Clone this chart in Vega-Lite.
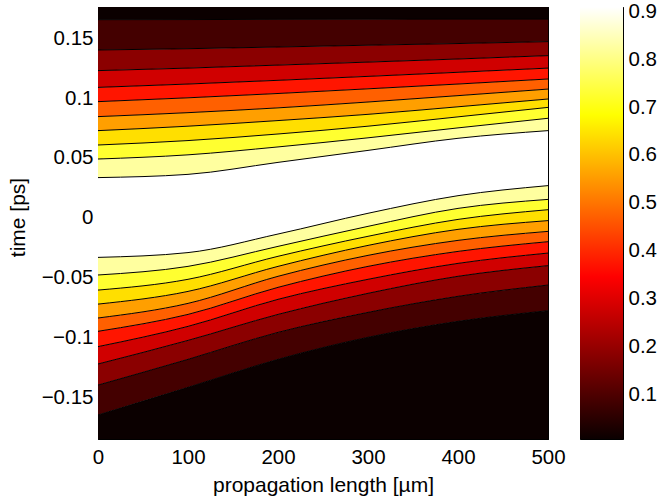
{
  "$schema": "https://vega.github.io/schema/vega-lite/v6.json",
  "autosize": {"type": "pad"},
  "padding": {"left": 6, "top": 0, "right": 0, "bottom": 0},
  "background": "white",
  "config": {
    "font": "Liberation Sans",
    "view": {"stroke": "black", "strokeWidth": 1},
    "axis": {
      "grid": false,
      "domainColor": "black",
      "tickColor": "black",
      "labelColor": "black",
      "titleColor": "black",
      "labelFont": "Liberation Sans",
      "titleFont": "Liberation Sans",
      "labelFontSize": 20.5,
      "titleFontSize": 21,
      "titleFontWeight": "normal",
      "labelFlush": false
    }
  },
  "datasets": {
    "bands": [
      {"x":0,"b":0,"h":"t","lo":0.1654,"hi":0.176},{"x":100,"b":0,"h":"t","lo":0.1655,"hi":0.176},{"x":200,"b":0,"h":"t","lo":0.1657,"hi":0.176},{"x":300,"b":0,"h":"t","lo":0.1658,"hi":0.176},{"x":400,"b":0,"h":"t","lo":0.1659,"hi":0.176},{"x":500,"b":0,"h":"t","lo":0.1659,"hi":0.176},
      {"x":0,"b":1,"h":"t","lo":0.1401,"hi":0.1654},{"x":100,"b":1,"h":"t","lo":0.1412,"hi":0.1655},{"x":200,"b":1,"h":"t","lo":0.1426,"hi":0.1657},{"x":300,"b":1,"h":"t","lo":0.1441,"hi":0.1658},{"x":400,"b":1,"h":"t","lo":0.1455,"hi":0.1659},{"x":500,"b":1,"h":"t","lo":0.1471,"hi":0.1659},
      {"x":0,"b":2,"h":"t","lo":0.1229,"hi":0.1401},{"x":100,"b":2,"h":"t","lo":0.1250,"hi":0.1412},{"x":200,"b":2,"h":"t","lo":0.1275,"hi":0.1426},{"x":300,"b":2,"h":"t","lo":0.1300,"hi":0.1441},{"x":400,"b":2,"h":"t","lo":0.1326,"hi":0.1455},{"x":500,"b":2,"h":"t","lo":0.1354,"hi":0.1471},
      {"x":0,"b":3,"h":"t","lo":0.1089,"hi":0.1229},{"x":100,"b":3,"h":"t","lo":0.1117,"hi":0.1250},{"x":200,"b":3,"h":"t","lo":0.1148,"hi":0.1275},{"x":300,"b":3,"h":"t","lo":0.1181,"hi":0.1300},{"x":400,"b":3,"h":"t","lo":0.1215,"hi":0.1326},{"x":500,"b":3,"h":"t","lo":0.1250,"hi":0.1354},
      {"x":0,"b":4,"h":"t","lo":0.0970,"hi":0.1089},{"x":100,"b":4,"h":"t","lo":0.1002,"hi":0.1117},{"x":200,"b":4,"h":"t","lo":0.1038,"hi":0.1148},{"x":300,"b":4,"h":"t","lo":0.1077,"hi":0.1181},{"x":400,"b":4,"h":"t","lo":0.1117,"hi":0.1215},{"x":500,"b":4,"h":"t","lo":0.1159,"hi":0.1250},
      {"x":0,"b":5,"h":"t","lo":0.0845,"hi":0.0970},{"x":100,"b":5,"h":"t","lo":0.0878,"hi":0.1002},{"x":200,"b":5,"h":"t","lo":0.0918,"hi":0.1038},{"x":300,"b":5,"h":"t","lo":0.0967,"hi":0.1077},{"x":400,"b":5,"h":"t","lo":0.1020,"hi":0.1117},{"x":500,"b":5,"h":"t","lo":0.1075,"hi":0.1159},
      {"x":0,"b":6,"h":"t","lo":0.0728,"hi":0.0845},{"x":100,"b":6,"h":"t","lo":0.0765,"hi":0.0878},{"x":200,"b":6,"h":"t","lo":0.0812,"hi":0.0918},{"x":300,"b":6,"h":"t","lo":0.0864,"hi":0.0967},{"x":400,"b":6,"h":"t","lo":0.0927,"hi":0.1020},{"x":500,"b":6,"h":"t","lo":0.0992,"hi":0.1075},
      {"x":0,"b":7,"h":"t","lo":0.0608,"hi":0.0728},{"x":100,"b":7,"h":"t","lo":0.0645,"hi":0.0765},{"x":200,"b":7,"h":"t","lo":0.0700,"hi":0.0812},{"x":300,"b":7,"h":"t","lo":0.0765,"hi":0.0864},{"x":400,"b":7,"h":"t","lo":0.0843,"hi":0.0927},{"x":500,"b":7,"h":"t","lo":0.0922,"hi":0.0992},
      {"x":0,"b":8,"h":"t","lo":0.0491,"hi":0.0608},{"x":100,"b":8,"h":"t","lo":0.0526,"hi":0.0645},{"x":200,"b":8,"h":"t","lo":0.0592,"hi":0.0700},{"x":300,"b":8,"h":"t","lo":0.0668,"hi":0.0765},{"x":400,"b":8,"h":"t","lo":0.0751,"hi":0.0843},{"x":500,"b":8,"h":"t","lo":0.0831,"hi":0.0922},
      {"x":0,"b":9,"h":"t","lo":0.0336,"hi":0.0491},{"x":100,"b":9,"h":"t","lo":0.0363,"hi":0.0526},{"x":200,"b":9,"h":"t","lo":0.0463,"hi":0.0592},{"x":300,"b":9,"h":"t","lo":0.0563,"hi":0.0668},{"x":400,"b":9,"h":"t","lo":0.0664,"hi":0.0751},{"x":500,"b":9,"h":"t","lo":0.0728,"hi":0.0831},
      {"x":0,"b":10,"h":"m","lo":-0.0330,"hi":0.0336},{"x":100,"b":10,"h":"m","lo":-0.0290,"hi":0.0363},{"x":200,"b":10,"h":"m","lo":-0.0135,"hi":0.0463},{"x":300,"b":10,"h":"m","lo":0.0038,"hi":0.0563},{"x":400,"b":10,"h":"m","lo":0.0185,"hi":0.0664},{"x":500,"b":10,"h":"m","lo":0.0269,"hi":0.0728},
      {"x":0,"b":0,"h":"b","lo":-0.1846,"hi":-0.1646},{"x":100,"b":0,"h":"b","lo":-0.1846,"hi":-0.1415},{"x":200,"b":0,"h":"b","lo":-0.1846,"hi":-0.1181},{"x":300,"b":0,"h":"b","lo":-0.1846,"hi":-0.0997},{"x":400,"b":0,"h":"b","lo":-0.1846,"hi":-0.0864},{"x":500,"b":0,"h":"b","lo":-0.1846,"hi":-0.0775},
      {"x":0,"b":1,"h":"b","lo":-0.1646,"hi":-0.1396},{"x":100,"b":1,"h":"b","lo":-0.1415,"hi":-0.1181},{"x":200,"b":1,"h":"b","lo":-0.1181,"hi":-0.0956},{"x":300,"b":1,"h":"b","lo":-0.0997,"hi":-0.0789},{"x":400,"b":1,"h":"b","lo":-0.0864,"hi":-0.0655},{"x":500,"b":1,"h":"b","lo":-0.0775,"hi":-0.0561},
      {"x":0,"b":2,"h":"b","lo":-0.1396,"hi":-0.1220},{"x":100,"b":2,"h":"b","lo":-0.1181,"hi":-0.1023},{"x":200,"b":2,"h":"b","lo":-0.0956,"hi":-0.0806},{"x":300,"b":2,"h":"b","lo":-0.0789,"hi":-0.0630},{"x":400,"b":2,"h":"b","lo":-0.0655,"hi":-0.0488},{"x":500,"b":2,"h":"b","lo":-0.0561,"hi":-0.0399},
      {"x":0,"b":3,"h":"b","lo":-0.1220,"hi":-0.1075},{"x":100,"b":3,"h":"b","lo":-0.1023,"hi":-0.0906},{"x":200,"b":3,"h":"b","lo":-0.0806,"hi":-0.0680},{"x":300,"b":3,"h":"b","lo":-0.0630,"hi":-0.0513},{"x":400,"b":3,"h":"b","lo":-0.0488,"hi":-0.0380},{"x":500,"b":3,"h":"b","lo":-0.0399,"hi":-0.0294},
      {"x":0,"b":4,"h":"b","lo":-0.1075,"hi":-0.0947},{"x":100,"b":4,"h":"b","lo":-0.0906,"hi":-0.0806},{"x":200,"b":4,"h":"b","lo":-0.0680,"hi":-0.0580},{"x":300,"b":4,"h":"b","lo":-0.0513,"hi":-0.0405},{"x":400,"b":4,"h":"b","lo":-0.0380,"hi":-0.0280},{"x":500,"b":4,"h":"b","lo":-0.0294,"hi":-0.0199},
      {"x":0,"b":5,"h":"b","lo":-0.0947,"hi":-0.0836},{"x":100,"b":5,"h":"b","lo":-0.0806,"hi":-0.0714},{"x":200,"b":5,"h":"b","lo":-0.0580,"hi":-0.0488},{"x":300,"b":5,"h":"b","lo":-0.0405,"hi":-0.0313},{"x":400,"b":5,"h":"b","lo":-0.0280,"hi":-0.0188},{"x":500,"b":5,"h":"b","lo":-0.0199,"hi":-0.0113},
      {"x":0,"b":6,"h":"b","lo":-0.0836,"hi":-0.0720},{"x":100,"b":6,"h":"b","lo":-0.0714,"hi":-0.0614},{"x":200,"b":6,"h":"b","lo":-0.0488,"hi":-0.0405},{"x":300,"b":6,"h":"b","lo":-0.0313,"hi":-0.0230},{"x":400,"b":6,"h":"b","lo":-0.0188,"hi":-0.0096},{"x":500,"b":6,"h":"b","lo":-0.0113,"hi":-0.0023},
      {"x":0,"b":7,"h":"b","lo":-0.0720,"hi":-0.0603},{"x":100,"b":7,"h":"b","lo":-0.0614,"hi":-0.0513},{"x":200,"b":7,"h":"b","lo":-0.0405,"hi":-0.0321},{"x":300,"b":7,"h":"b","lo":-0.0230,"hi":-0.0154},{"x":400,"b":7,"h":"b","lo":-0.0096,"hi":-0.0013},{"x":500,"b":7,"h":"b","lo":-0.0023,"hi":0.0068},
      {"x":0,"b":8,"h":"b","lo":-0.0603,"hi":-0.0477},{"x":100,"b":8,"h":"b","lo":-0.0513,"hi":-0.0405},{"x":200,"b":8,"h":"b","lo":-0.0321,"hi":-0.0238},{"x":300,"b":8,"h":"b","lo":-0.0154,"hi":-0.0071},{"x":400,"b":8,"h":"b","lo":-0.0013,"hi":0.0079},{"x":500,"b":8,"h":"b","lo":0.0068,"hi":0.0154},
      {"x":0,"b":9,"h":"b","lo":-0.0477,"hi":-0.0330},{"x":100,"b":9,"h":"b","lo":-0.0405,"hi":-0.0290},{"x":200,"b":9,"h":"b","lo":-0.0238,"hi":-0.0135},{"x":300,"b":9,"h":"b","lo":-0.0071,"hi":0.0038},{"x":400,"b":9,"h":"b","lo":0.0079,"hi":0.0185},{"x":500,"b":9,"h":"b","lo":0.0154,"hi":0.0269}
    ],
    "cbar": [{"lo": 0.007, "hi": 0.909}]
  },
  "hconcat": [
    {
      "width": 450,
      "height": 432,
      "data": {"name": "bands"},
      "layer": [
        {
          "mark": {"type": "area", "interpolate": "monotone", "clip": true},
          "encoding": {
            "x": {"field": "x", "type": "quantitative", "scale": {"domain": [0, 500], "nice": false},
              "axis": {"orient": "bottom", "values": [0, 100, 200, 300, 400, 500], "tickSize": -4, "labelPadding": 12, "labelFlush": false, "title": "propagation length [µm]", "titleY": 52, "titleBaseline": "alphabetic"}},
            "y": {"field": "lo", "type": "quantitative", "scale": {"domain": [-0.1846, 0.176], "nice": false, "zero": false},
              "axis": {"orient": "left", "values": [-0.15, -0.1, -0.05, 0, 0.05, 0.1, 0.15], "format": "~g", "tickSize": -4, "labelPadding": 9, "title": "time [ps]", "titleX": -74, "titleY": 210, "titleBaseline": "alphabetic", "titleAngle": -90, "titleAlign": "center"}},
            "y2": {"field": "hi"},
            "color": {"field": "b", "type": "ordinal", "legend": null,
              "scale": {"domain": [0, 1, 2, 3, 4, 5, 6, 7, 8, 9, 10],
                "range": ["#0b0000", "#440000", "#8b0000", "#d00000", "#ff1500", "#ff6000", "#ff9f00", "#ffdf00", "#ffff30", "#ffff9f", "#ffffff"]}},
            "detail": {"field": "h"}
          }
        },
        {
          "transform": [{"filter": "datum.h == 't'"}],
          "mark": {"type": "line", "interpolate": "monotone", "color": "black", "strokeWidth": 1, "clip": true},
          "encoding": {
            "x": {"field": "x", "type": "quantitative", "scale": {"domain": [0, 500], "nice": false},
              "axis": {"orient": "top", "values": [0, 100, 200, 300, 400, 500], "tickSize": -4, "labels": false, "title": null}},
            "y": {"field": "lo", "type": "quantitative", "scale": {"domain": [-0.1846, 0.176], "nice": false, "zero": false},
              "axis": {"orient": "right", "values": [-0.15, -0.1, -0.05, 0, 0.05, 0.1, 0.15], "tickSize": -4, "labels": false, "title": null}},
            "detail": {"field": "b"}
          }
        },
        {
          "transform": [{"filter": "datum.h == 'b'"}],
          "mark": {"type": "line", "interpolate": "monotone", "color": "black", "strokeWidth": 1, "clip": true},
          "encoding": {
            "x": {"field": "x", "type": "quantitative", "scale": {"domain": [0, 500], "nice": false}, "axis": null},
            "y": {"field": "hi", "type": "quantitative", "scale": {"domain": [-0.1846, 0.176], "nice": false, "zero": false}, "axis": null},
            "detail": {"field": "b"}
          }
        }
      ],
      "resolve": {"axis": {"x": "independent", "y": "independent"}}
    },
    {
      "width": 43,
      "height": 432,
      "data": {"name": "cbar"},
      "layer": [
        {
          "mark": {"type": "rect", "color": {"gradient": "linear", "x1": 0, "y1": 1, "x2": 0, "y2": 0,
            "stops": [{"offset": 0, "color": "#0b0000"}, {"offset": 0.375, "color": "#ff0000"}, {"offset": 0.75, "color": "#ffff00"}, {"offset": 1, "color": "#ffffff"}]}},
          "encoding": {
            "x": {"datum": 0, "type": "quantitative", "scale": {"domain": [0, 1], "nice": false}, "axis": null},
            "x2": {"datum": 1},
            "y": {"field": "lo", "type": "quantitative", "scale": {"domain": [0.007, 0.909], "nice": false, "zero": false},
              "axis": {"orient": "right", "values": [0.1, 0.2, 0.3, 0.4, 0.5, 0.6, 0.7, 0.8, 0.9], "format": ".1f", "tickSize": -4, "labelPadding": 9, "title": null}},
            "y2": {"field": "hi"}
          }
        },
        {
          "mark": {"type": "rect", "opacity": 0},
          "encoding": {
            "x": {"datum": 0, "type": "quantitative", "scale": {"domain": [0, 1], "nice": false}, "axis": null},
            "x2": {"datum": 1},
            "y": {"field": "lo", "type": "quantitative", "scale": {"domain": [0.007, 0.909], "nice": false, "zero": false},
              "axis": {"orient": "left", "values": [0.1, 0.2, 0.3, 0.4, 0.5, 0.6, 0.7, 0.8, 0.9], "tickSize": -4, "labels": false, "title": null}},
            "y2": {"field": "hi"}
          }
        }
      ],
      "resolve": {"axis": {"y": "independent"}}
    }
  ],
  "spacing": 32,
  "bounds": "flush"
}
